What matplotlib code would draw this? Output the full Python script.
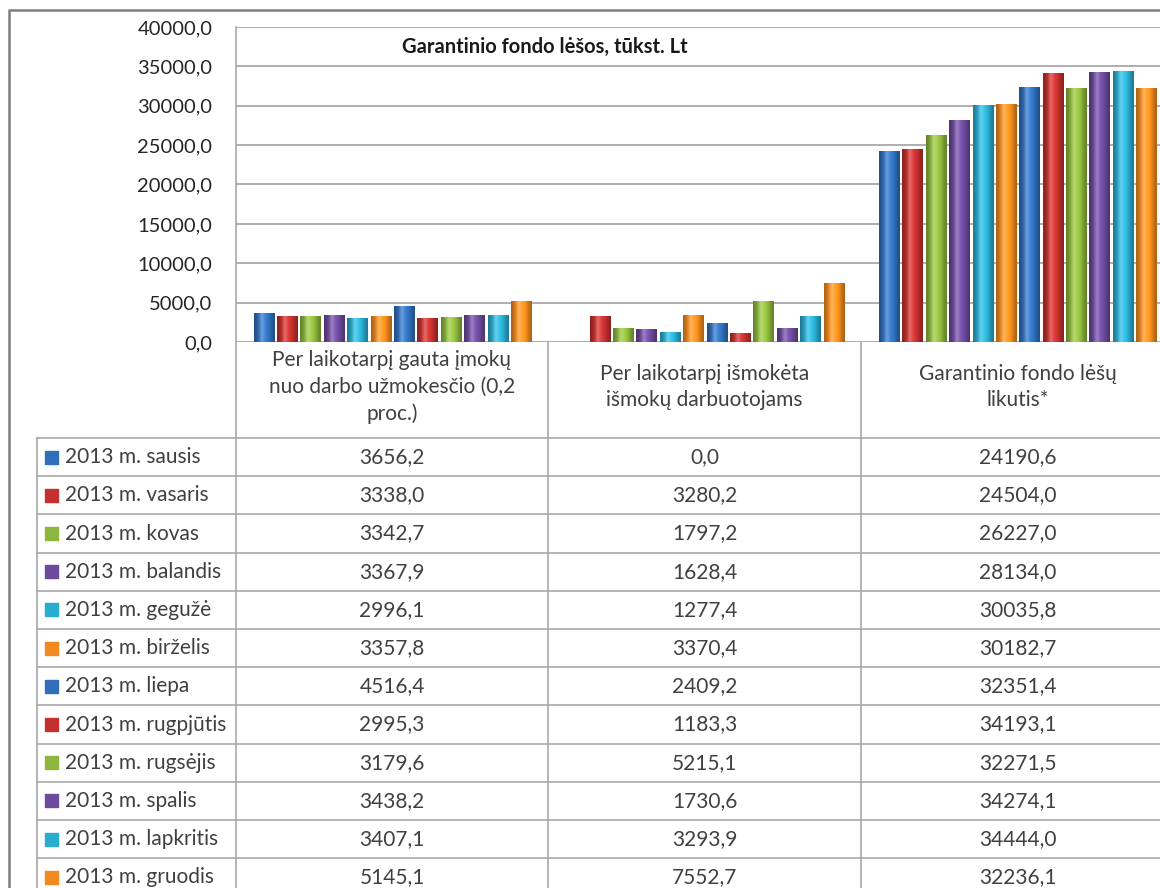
import numpy as np
import matplotlib.pyplot as plt
from matplotlib.colors import to_rgb

plt.rcParams['font.family'] = ['Lato', 'DejaVu Sans']

# duomenys
menesiai = ['2013 m. sausis', '2013 m. vasaris', '2013 m. kovas', '2013 m. balandis',
            '2013 m. gegužė', '2013 m. birželis', '2013 m. liepa', '2013 m. rugpjūtis',
            '2013 m. rugsėjis', '2013 m. spalis', '2013 m. lapkritis', '2013 m. gruodis']
kategorijos = ['Per laikotarpį gauta įmokų\nnuo darbo užmokesčio (0,2\nproc.)',
               'Per laikotarpį išmokėta\nišmokų darbuotojams',
               'Garantinio fondo lėšų\nlikutis*']
gauta = [3656.2, 3338.0, 3342.7, 3367.9, 2996.1, 3357.8, 4516.4, 2995.3, 3179.6, 3438.2, 3407.1, 5145.1]
ismoketa = [0.0, 3280.2, 1797.2, 1628.4, 1277.4, 3370.4, 2409.2, 1183.3, 5215.1, 1730.6, 3293.9, 7552.7]
likutis = [24190.6, 24504.0, 26227.0, 28134.0, 30035.8, 30182.7, 32351.4, 34193.1, 32271.5, 34274.1, 34444.0, 32236.1]
y_ticks = [0, 5000, 10000, 15000, 20000, 25000, 30000, 35000, 40000]
spalvos = ['#2f6fba', '#c3302e', '#8cb63c', '#6c4a9c', '#2aaccf', '#f08a1e'] * 2

serijos = [gauta, ismoketa, likutis]
W, H = 1160, 888
tekstas = '#262626'
pilka = '#404040'
linija = '#a8a8a8'


def fmt(v):
    return f'{v:.1f}'.replace('.', ',')


def cilindras(spalva, n=40):
    # horizontalus gradientas, kad stulpelis atrodytų apvalus
    t = np.linspace(0, 1, n)
    f = 0.72 + 0.42 * np.sin(np.pi * t) ** 1.5
    c = np.array(to_rgb(spalva))
    rgb = np.clip(c[None, :] * f[:, None], 0, 1)
    hl = np.exp(-((t - 0.38) / 0.12) ** 2)[:, None] * 0.25
    rgb = rgb * (1 - hl) + hl
    return rgb[None, :, :]


fig = plt.figure(figsize=(W / 100, H / 100), dpi=100)
fig.patch.set_facecolor('white')

# diagramos sritis
x0, x1, ytop, yzero = 236, 1174, 27, 342
ax = fig.add_axes([x0 / W, (H - yzero) / H, (x1 - x0) / W, (yzero - ytop) / H])
ax.set_facecolor('none')
for s in ax.spines.values():
    s.set_visible(False)
ax.set_yticks(y_ticks)
ax.set_yticklabels([fmt(v) for v in y_ticks], fontsize=14.5, color=tekstas)
ax.tick_params(axis='y', length=0, pad=17)
ax.set_xticks([])
ax.yaxis.grid(True, color=linija, linewidth=1.3)
ax.set_axisbelow(True)

krastas = 0.051
slot = (1 - 2 * krastas) / 12
bw = slot * 0.86
for i, reiksmes in enumerate(serijos):
    xs = [i + krastas + (j + 0.5) * slot for j in range(12)]
    bars = ax.bar(xs, reiksmes, width=bw, color=spalvos, edgecolor='none', zorder=3)
    for j, b in enumerate(bars):
        if reiksmes[j] <= 0:
            continue
        im = ax.imshow(cilindras(spalvos[j]), extent=[xs[j] - bw / 2, xs[j] + bw / 2, 0, reiksmes[j]],
                       aspect='auto', zorder=4, interpolation='bilinear')
        im.set_clip_path(b)
ax.set_xlim(0, 3)
ax.set_ylim(0, 40000)

# lentelė ir rėmai
ov = fig.add_axes([0, 0, 1, 1])
ov.set_xlim(0, W)
ov.set_ylim(H, 0)
ov.axis('off')

# išorinis rėmas
ov.plot([9, 9, W], [H, 10, 10], color='#7f7f7f', lw=1.8)

row_top, row_h = 438, 38.2
stulp = [236, 548, 861, 1174]
for k in range(13):
    y = row_top + k * row_h
    if y <= H:
        ov.plot([37, W], [y, y], color=linija, lw=1.2)
ov.plot([37, 37], [row_top, H], color=linija, lw=1.2)
ov.plot([236, 236], [ytop, H], color=linija, lw=1.2)
for xc in stulp[1:3]:
    ov.plot([xc, xc], [yzero, H], color=linija, lw=1.2)

# antraštė
ov.text(402, 47, 'Garantinio fondo lėšos, tūkst. Lt', fontsize=14.5, fontweight='bold',
        color='#1a1a1a', ha='left', va='center')

# kategorijų pavadinimai
for i, kat in enumerate(kategorijos):
    cx = (stulp[i] + stulp[i + 1]) / 2
    ov.text(cx, 387, kat, fontsize=15, color=pilka, ha='center', va='center',
            linespacing=1.42)

# eilutės
for r, men in enumerate(menesiai):
    cy = row_top + (r + 0.5) * row_h
    ov.add_patch(plt.Rectangle((45, cy - 6.5), 13, 13, color=spalvos[r]))
    ov.text(65, cy, men, fontsize=15, color=pilka, ha='left', va='center')
    for i, reiksmes in enumerate(serijos):
        cx = (stulp[i] + stulp[i + 1]) / 2
        ov.text(cx, cy, fmt(reiksmes[r]), fontsize=15, color=pilka,
                ha='center', va='center')

fig.savefig('out.png', dpi=100)
